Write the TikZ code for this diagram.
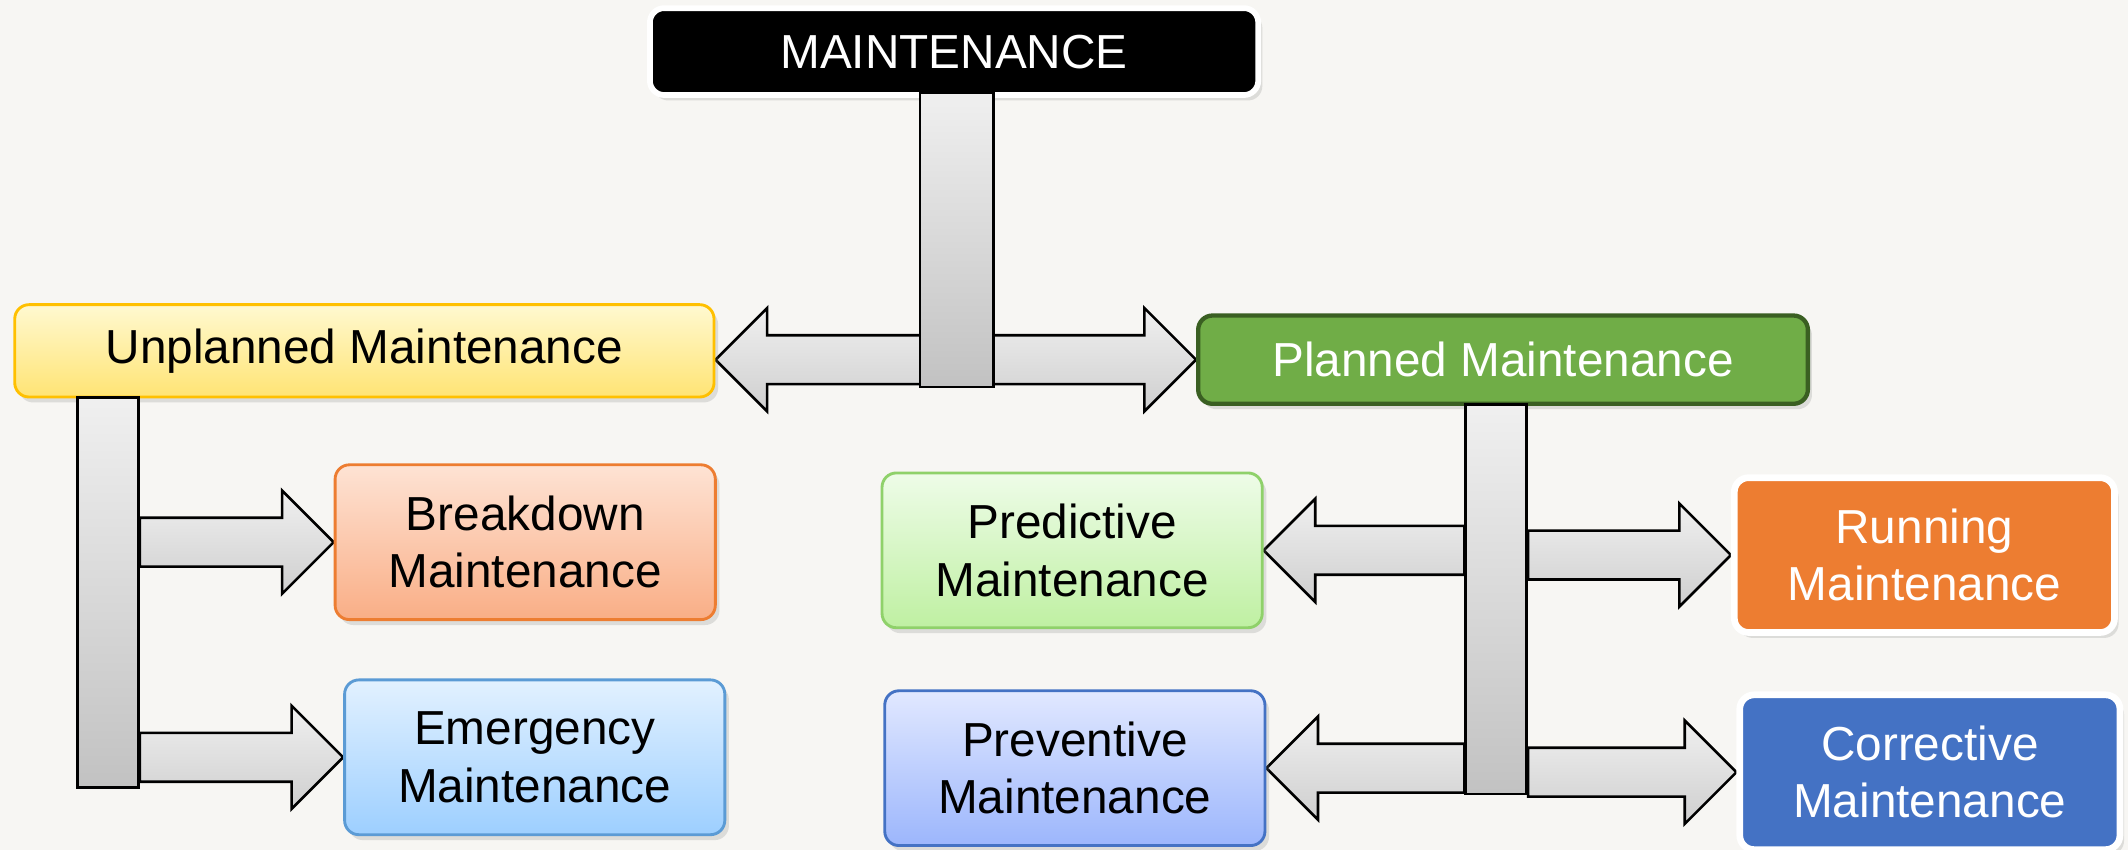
\documentclass[tikz,border=0pt]{standalone}
\usepackage{fontspec}
\setmainfont{Liberation Sans}
\usetikzlibrary{calc,shadows}

\definecolor{paperColor}{HTML}{F7F6F3}
\definecolor{goldColor}{HTML}{FFC000}
\definecolor{goldTop}{HTML}{FFF9D0}
\definecolor{goldBottom}{HTML}{FFE474}
\definecolor{orangeColor}{HTML}{ED7D31}
\definecolor{orangeTop}{HTML}{FEE3D4}
\definecolor{orangeBottom}{HTML}{F9AE86}
\definecolor{skyColor}{HTML}{5B9BD5}
\definecolor{skyTop}{HTML}{E2F1FF}
\definecolor{skyBottom}{HTML}{9DCFFF}
\definecolor{greenColor}{HTML}{70AD47}
\definecolor{darkGreenColor}{HTML}{3A5F22}
\definecolor{leafColor}{HTML}{8FD16A}
\definecolor{leafTop}{HTML}{EEFCE8}
\definecolor{leafBottom}{HTML}{BFF0A2}
\definecolor{blueColor}{HTML}{4472C4}
\definecolor{blueTop}{HTML}{E1E8FF}
\definecolor{blueBottom}{HTML}{9CB6FC}

\pgfdeclarelayer{paper}
\pgfdeclarelayer{arrows}
\pgfsetlayers{paper,arrows,main}

%% a block arrow from the side of #1 to the tip at #2, #3 = 1 right, -1 left
\newcommand{\blockArrow}[3]{%
  \draw[arrowStyle] let \p1=(#1), \p2=(#2) in
    (\x1,{\y2+\shaftHalf}) -- ({\x2-(#3)*\headLen},{\y2+\shaftHalf})
    -- ({\x2-(#3)*\headLen},{\y2+\headHalf}) -- (\x2,\y2)
    -- ({\x2-(#3)*\headLen},{\y2-\headHalf})
    -- ({\x2-(#3)*\headLen},{\y2-\shaftHalf}) -- (\x1,{\y2-\shaftHalf}) -- cycle;}

\begin{document}
\begin{tikzpicture}[x=0.01cm,y=-0.01cm,%%
  boxStyle/.style={rounded corners=3pt,align=center,line width=0.6pt,%%
    minimum width=2.8cm,minimum height=1.14cm,inner sep=0pt,%%
    font=\fontsize{10}{12}\selectfont,%%
    drop shadow={opacity=0.22,shadow xshift=0.03cm,shadow yshift=-0.04cm}},%%
  darkBoxStyle/.style={boxStyle,draw=white,line width=1.4pt,text=white},%%
  barStyle/.style={draw=black,line width=0.55pt,top color=gray!12,%%
    bottom color=gray!48,minimum width=0.45cm,inner sep=0pt},%%
  arrowStyle/.style={draw=black,line width=0.55pt,top color=gray!12,%%
    bottom color=gray!38}%%
]
%%
\def\shaftHalf{0.18cm} %% half the height of an arrow shaft
\def\headHalf{0.38cm}  %% half the height of an arrow head
\def\headLen{0.38cm}   %% the length of an arrow head
%%
\useasboundingbox (0,0) rectangle (1568,626);
\begin{pgfonlayer}{paper}
  \fill[paperColor] (0,0) rectangle (1568,626);
\end{pgfonlayer}
%%
%% The top of the tree.
\node[boxStyle,fill=black,draw=white,line width=1.2pt,text=white,%%
  minimum width=4.48cm,minimum height=0.64cm] (mainBox) at (703,38) {MAINTENANCE};
\node[barStyle,minimum width=0.54cm,minimum height=2.17cm] (topBar) at (705,176.5) {};
%%
%% The unplanned branch.
\node[boxStyle,top color=goldTop,bottom color=goldBottom,draw=goldColor,%%
  minimum width=5.15cm,minimum height=0.68cm] (unplanned) at (268.5,258.5) {Unplanned Maintenance};
\node[barStyle,minimum height=2.87cm] (leftBar) at (79.5,436.5) {};
\node[boxStyle,top color=orangeTop,bottom color=orangeBottom,draw=orangeColor] %%
  (breakdown) at (387,399.5) {Breakdown\\Maintenance};
\node[boxStyle,top color=skyTop,bottom color=skyBottom,draw=skyColor] %%
  (emergency) at (394,558) {Emergency\\Maintenance};
%%
%% The planned branch.
\node[boxStyle,fill=greenColor,draw=darkGreenColor,line width=0.9pt,text=white,%%
  minimum width=4.49cm,minimum height=0.65cm] (planned) at (1107.5,265) {Planned Maintenance};
\node[barStyle,minimum height=2.87cm] (rightBar) at (1102.5,441.5) {};
\node[boxStyle,top color=leafTop,bottom color=leafBottom,draw=leafColor] %%
  (predictive) at (790,405.5) {Predictive\\Maintenance};
\node[boxStyle,top color=blueTop,bottom color=blueBottom,draw=blueColor] %%
  (preventive) at (792,566) {Preventive\\Maintenance};
\node[darkBoxStyle,fill=orangeColor] (running) at (1418,409) {Running\\Maintenance};
\node[darkBoxStyle,fill=blueColor] (corrective) at (1422,569) {Corrective\\Maintenance};
%%
%% The arrows sit under the bars.
\begin{pgfonlayer}{arrows}
  %% The double arrow between the two branches.
  \draw[arrowStyle] let \p1=(unplanned.east), \p2=(planned.west) in
    (\x1,\y2) -- ({\x1+\headLen},{\y2+\headHalf}) -- ({\x1+\headLen},{\y2+\shaftHalf})
    -- ({\x2-\headLen},{\y2+\shaftHalf}) -- ({\x2-\headLen},{\y2+\headHalf}) -- (\x2,\y2)
    -- ({\x2-\headLen},{\y2-\headHalf}) -- ({\x2-\headLen},{\y2-\shaftHalf})
    -- ({\x1+\headLen},{\y2-\shaftHalf}) -- ({\x1+\headLen},{\y2-\headHalf}) -- cycle;
  %% Unplanned kinds.
  \blockArrow{leftBar.east}{breakdown.west}{1}
  \blockArrow{leftBar.east}{emergency.west}{1}
  %% Planned kinds.
  \blockArrow{rightBar.west}{predictive.east}{-1}
  \blockArrow{rightBar.west}{preventive.east}{-1}
  \blockArrow{rightBar.east}{running.west}{1}
  \blockArrow{rightBar.east}{corrective.west}{1}
\end{pgfonlayer}
\end{tikzpicture}
\end{document}
